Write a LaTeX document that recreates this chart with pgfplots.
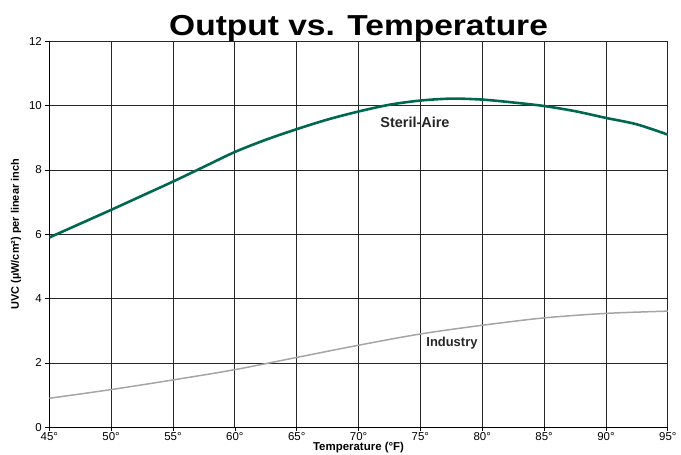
\documentclass[border=0pt]{standalone}
\usepackage{fontspec}
\setmainfont{Liberation Sans}
\usepackage{graphicx}
\usepackage{pgfplots}
\pgfplotsset{compat=1.18}
\definecolor{sterilgreen}{RGB}{0,104,80}
\definecolor{industrygray}{RGB}{165,165,165}
\begin{document}
\begin{tikzpicture}
\begin{axis}[
    scale only axis,
    width=618.5bp, height=385.8bp,
    xmin=45, xmax=95, ymin=0, ymax=12,
    enlargelimits=false,
    axis lines=left,
    axis line style={-, line width=0.9pt},
    xtick={45,50,...,95},
    xticklabels={45°,50°,55°,60°,65°,70°,75°,80°,85°,90°,95°},
    ytick={0,2,...,12},
    tick align=outside,
    major tick length=4bp,
    tick style={black, line width=0.7pt},
    grid=major,
    major grid style={black!85, line width=0.8pt},
    /pgf/number format/assume math mode=true,
    ticklabel style={font=\fontsize{11.5}{12}\selectfont},
    xticklabel style={yshift=2bp},
    title={\scalebox{1.16}[1]{\textbf{Output vs. Temperature}}},
    title style={font=\fontsize{29}{32}\selectfont, yshift=-10bp},
    xlabel={\textbf{Temperature (°F)}},
    xlabel style={font=\fontsize{11.5}{12}\selectfont, yshift=5bp},
    ylabel={\textbf{UVC (µW/cm²) per linear inch}},
    ylabel style={font=\fontsize{11}{12}\selectfont, yshift=1bp},
]
% Steril-Aire
\addplot[sterilgreen, line width=2.6pt, smooth] coordinates {
(45,5.9)(47.5,6.33)(50,6.76)(52.5,7.2)(55,7.64)(57.5,8.1)(60,8.56)
(62.5,8.94)(65,9.27)(67.5,9.57)(70,9.82)(72.5,10.03)(75,10.16)
(77.5,10.22)(80,10.19)(82.5,10.1)(85,9.99)(87.5,9.83)(90,9.62)
(92.5,9.42)(95,9.1)};
% Industry
\addplot[industrygray, line width=1.5pt, smooth] coordinates {
(45,0.9)(50,1.17)(55,1.47)(60,1.79)(65,2.17)(70,2.55)(75,2.9)
(80,3.17)(85,3.4)(90,3.54)(95,3.61)};
\node[font=\bfseries\fontsize{14.5}{16}\selectfont, text=black!85] at (axis cs:74.56,9.49) {Steril-Aire};
\node[font=\bfseries\fontsize{13}{14}\selectfont, text=black!85] at (axis cs:77.55,2.62) {Industry};
\end{axis}
\pgfresetboundingbox
\path (current axis.south west) ++(-49.3bp,-27.8bp) coordinate (bl);
\path (current axis.north east) ++(13.2bp,41.4bp) coordinate (tr);
\path (bl) rectangle (tr);
\end{tikzpicture}
\end{document}
